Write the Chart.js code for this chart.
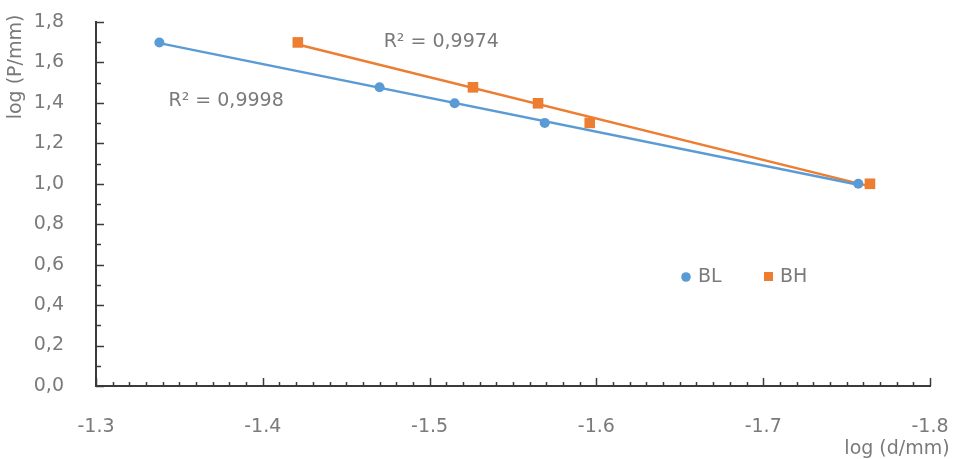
<!DOCTYPE html>
<html>
<head>
<meta charset="utf-8">
<script src="https://cdn.jsdelivr.net/npm/chart.js@4"></script>
<style>
  html, body { margin: 0; padding: 0; background: #fff; }
  #wrap { width: 956px; height: 459px; }
</style>
</head>
<body>
<div id="wrap"><canvas id="chart"></canvas></div>
<script>
// data
const seriesNames = ['BL', 'BH'];
const blX = [-1.338, -1.470, -1.515, -1.569, -1.757];
const blY = [1.699, 1.477, 1.398, 1.301, 1.000];
const bhX = [-1.421, -1.526, -1.565, -1.596, -1.764];
const bhY = [1.699, 1.477, 1.398, 1.301, 1.000];
const r2Labels = ['R\u00b2 = 0,9998', 'R\u00b2 = 0,9974'];
const r2Anchors = [[-1.378, 1.41], [-1.507, 1.70]]; // label centres, data units
const xTitle = 'log (d/mm)';
const yTitle = 'log (P/mm)';

const blue = '#5B9BD5';
const orange = '#ED7D31';
const textCol = '#7a7a7a';
const axisCol = '#3a3a3a';
const font = 'DejaVu Sans';

function pts(xs, ys) {
    return xs.map((x, i) => ({ x: x, y: ys[i] }));
}

// least squares trendline between the smallest and largest x
function trend(xs, ys) {
    const n = xs.length;
    const mx = xs.reduce((a, b) => a + b) / n;
    const my = ys.reduce((a, b) => a + b) / n;
    let sxy = 0, sxx = 0;
    for (let i = 0; i < n; i++) {
        sxy += (xs[i] - mx) * (ys[i] - my);
        sxx += (xs[i] - mx) * (xs[i] - mx);
    }
    const b = sxy / sxx, a = my - b * mx;
    const x0 = Math.min(...xs), x1 = Math.max(...xs);
    return [{ x: x0, y: a + b * x0 }, { x: x1, y: a + b * x1 }];
}

const decor = {
    id: 'decor',
    afterDraw(chart) {
        const c = chart.ctx;
        const xs = chart.scales.x, ys = chart.scales.y;
        const area = chart.chartArea;
        c.save();
        c.strokeStyle = axisCol;
        c.lineWidth = 1.5;
        // inner tick marks
        for (let i = 0; i <= 18; i++) {
            const py = Math.round(ys.getPixelForValue(i / 10)) + 0.5;
            const len = i % 2 === 0 ? 8 : 5;
            c.beginPath(); c.moveTo(area.left, py); c.lineTo(area.left + len, py); c.stroke();
        }
        for (let i = 0; i <= 50; i++) {
            const px = Math.round(xs.getPixelForValue(-1.3 - i / 100)) + 0.5;
            const len = i % 10 === 0 ? 8 : 4;
            c.beginPath(); c.moveTo(px, area.bottom); c.lineTo(px, area.bottom - len); c.stroke();
        }

        c.fillStyle = textCol;
        c.font = '19px "' + font + '"';
        c.textBaseline = 'middle';
        c.textAlign = 'center';
        r2Labels.forEach((t, i) => {
            c.fillText(t, xs.getPixelForValue(r2Anchors[i][0]), ys.getPixelForValue(r2Anchors[i][1]));
        });

        // axis titles
        c.fillText(xTitle, 897, 449);
        c.save();
        c.translate(16, 67);
        c.rotate(-Math.PI / 2);
        c.fillText(yTitle, 0, 0);
        c.restore();

        // legend inside the plot
        c.textAlign = 'left';
        c.fillStyle = blue;
        c.beginPath(); c.arc(686, 277, 4.8, 0, Math.PI * 2); c.fill();
        c.fillStyle = orange;
        c.fillRect(764, 272, 9, 9);
        c.fillStyle = textCol;
        c.fillText(seriesNames[0], 698, 277);
        c.fillText(seriesNames[1], 780, 277);
        c.restore();
    }
};

new Chart(document.getElementById('chart').getContext('2d'), {
    type: 'scatter',
    data: {
        datasets: [
            {
                label: seriesNames[0] + ' trend',
                data: trend(blX, blY),
                showLine: true,
                borderColor: blue,
                borderWidth: 2.5,
                pointRadius: 0,
                order: 2
            },
            {
                label: seriesNames[1] + ' trend',
                data: trend(bhX, bhY),
                showLine: true,
                borderColor: orange,
                borderWidth: 2.5,
                pointRadius: 0,
                order: 2
            },
            {
                label: seriesNames[0],
                data: pts(blX, blY),
                pointStyle: 'circle',
                pointRadius: 5,
                backgroundColor: blue,
                borderColor: blue,
                borderWidth: 0,
                order: 1
            },
            {
                label: seriesNames[1],
                data: pts(bhX, bhY),
                pointStyle: 'rect',
                pointRadius: 7.5,
                backgroundColor: orange,
                borderColor: orange,
                borderWidth: 0,
                order: 1
            }
        ]
    },
    options: {
        responsive: true,
        maintainAspectRatio: false,
        animation: false,
        layout: { padding: { top: 22, right: 26, left: 0, bottom: 0 } },
        plugins: {
            legend: { display: false },
            tooltip: { enabled: false }
        },
        scales: {
            x: {
                type: 'linear',
                reverse: true,
                min: -1.8,
                max: -1.3,
                afterFit: s => { s.height = 73; s.paddingLeft = 0; s.paddingRight = 0; },
                grid: { display: false },
                border: { display: true, color: axisCol, width: 2 },
                ticks: {
                    stepSize: 0.1,
                    padding: 22,
                    color: textCol,
                    font: { family: font, size: 19 },
                    callback: v => v.toFixed(1)
                }
            },
            y: {
                min: 0,
                max: 1.8,
                afterFit: s => { s.width = 96; s.paddingTop = 0; s.paddingBottom = 0; },
                grid: { display: false },
                border: { display: true, color: axisCol, width: 2 },
                ticks: {
                    stepSize: 0.2,
                    padding: 24,
                    color: textCol,
                    font: { family: font, size: 19 },
                    callback: v => v.toFixed(1).replace('.', ',')
                }
            }
        }
    },
    plugins: [decor]
});
</script>
</body>
</html>
